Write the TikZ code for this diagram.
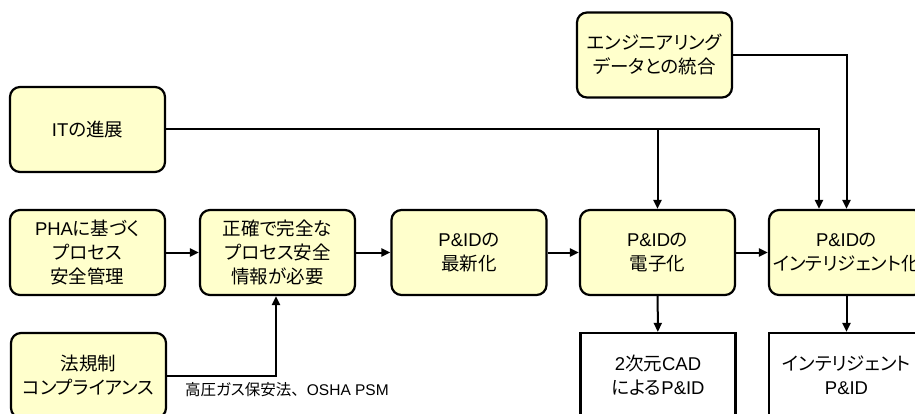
\documentclass[tikz,border=0pt]{standalone}
\usepackage{fontspec}
\setmainfont[RawFeature=+palt]{Noto Sans CJK JP}
\newfontfamily\jpfw{Noto Sans CJK JP}
\newfontfamily\lat{Liberation Sans}
\usetikzlibrary{arrows.meta}
\definecolor{boxyellow}{HTML}{FFFFCC}
\begin{document}
\begin{tikzpicture}[x=1pt,y=-1pt,
  ybox/.style={draw=black, line width=2.2pt, fill=boxyellow, rounded corners=10pt, minimum width=155pt, minimum height=85pt, align=center, inner sep=0pt, font=\fontsize{18.5}{24}\selectfont},
  wbox/.style={draw=black, line width=2.2pt, fill=white, minimum width=155pt, minimum height=85pt, align=center, inner sep=0pt, font=\fontsize{18.5}{24}\selectfont},
  conn/.style={draw=black, line width=2pt},
  arr/.style={conn, -{Triangle[length=9pt,width=8pt]}},
  note/.style={font=\fontsize{15.5}{18}\selectfont, inner sep=0pt, anchor=west}]
\clip (0,0) rectangle (915,414);
\node[ybox] (it) at (87.5,129.5) {{\lat IT}の進展};
\node[ybox] (pha) at (87.5,252.5) {{\lat PHA}に基づく\\プロセス\\安全管理};
\node[ybox] (acc) at (277.5,252.5) {正確で完全な\\プロセス安全\\情報が必要};
\node[ybox] (upd) at (469,252.5) {{\lat P\&ID}の\\最新化};
\node[ybox] (ele) at (657.5,252.5) {{\lat P\&ID}の\\電子化};
\node[ybox] (intel) at (846.5,252.5) {{\lat P\&ID}の\\インテリジェント化};
\node[ybox] (eng) at (654.5,55) {エンジニアリング\\データとの統合};
\node[ybox] (law) at (88.5,375.5) {法規制\\コンプライアンス};
\node[wbox] (cad) at (658,375.5) {{\lat 2}次元{\lat CAD}\\による{\lat P\&ID}};
\node[wbox] (ipid) at (846.5,375.5) {インテリジェント\\{\lat P\&ID}};
\node[note] (lbl) at (185,390) {高圧ガス保安法{\jpfw 、}{\lat OSHA PSM}};

\coordinate (itend) at ([xshift=-27.5pt]intel.north |- it.east);
\coordinate (itbr) at (ele.north |- it.east);
\draw[arr] (it.east) -- (itend) -- ([xshift=-27.5pt]intel.north);
\draw[arr] (itbr) -- (ele.north);
\draw[arr] (eng.east) -| (intel.north);
\draw[arr] (pha) -- (acc);
\draw[arr] (acc) -- (upd);
\draw[arr] (upd) -- (ele);
\draw[arr] (ele) -- (intel);
\draw[arr] (ele) -- (cad);
\draw[arr] (intel) -- (ipid);
\draw[arr] (law.east) -| ([xshift=-1.5pt]acc.south);
\end{tikzpicture}
\end{document}
